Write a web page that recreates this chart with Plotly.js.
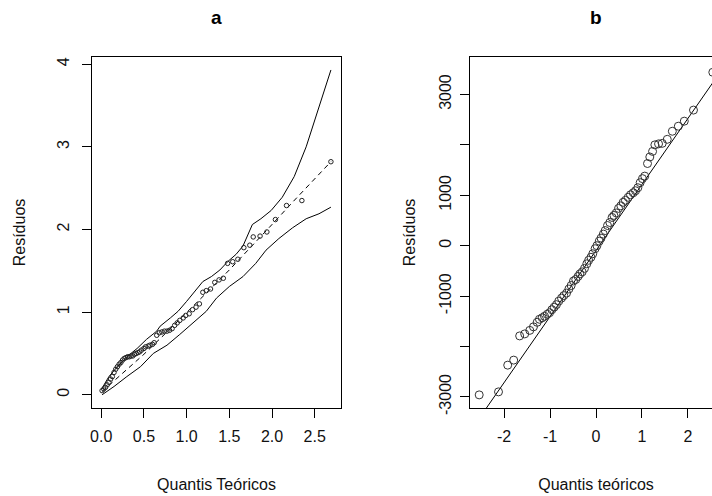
<!DOCTYPE html>
<html>
<head>
<meta charset="utf-8">
<script src="https://cdn.plot.ly/plotly-3.0.1.min.js"></script>
<style>
html,body{margin:0;padding:0;overflow:hidden;background:#fff;}
#chart{width:740px;height:496px;}
</style>
</head>
<body>
<div id="chart"></div>
<script>
// ---------- Panel a: half-normal plot with simulated envelope ----------
const aX = [0.01,0.03,0.05,0.07,0.09,0.11,0.13,0.15,0.17,0.19,0.21,0.23,0.25,0.27,0.29,0.31,0.33,0.35,0.37,0.39,0.41,0.43,0.45,0.47,0.50,0.52,0.55,0.57,0.60,0.62,0.65,0.68,0.71,0.74,0.77,0.80,0.83,0.86,0.89,0.92,0.96,0.99,1.03,1.07,1.11,1.15,1.19,1.23,1.28,1.33,1.38,1.43,1.48,1.54,1.60,1.67,1.74,1.78,1.86,1.94,2.04,2.17,2.35,2.69];
const aY = [0.05,0.07,0.09,0.12,0.15,0.19,0.22,0.27,0.31,0.34,0.37,0.39,0.42,0.44,0.45,0.46,0.46,0.47,0.47,0.49,0.50,0.51,0.52,0.54,0.56,0.58,0.59,0.60,0.61,0.63,0.72,0.75,0.76,0.77,0.77,0.78,0.80,0.84,0.87,0.90,0.93,0.96,0.98,1.03,1.06,1.10,1.24,1.26,1.28,1.36,1.39,1.41,1.59,1.61,1.64,1.78,1.81,1.91,1.92,1.97,2.12,2.29,2.35,2.82];
const aUpperX = [0.01,0.09,0.19,0.30,0.42,0.53,0.65,0.69,0.81,0.90,1.00,1.10,1.19,1.29,1.39,1.48,1.58,1.66,1.72,1.77,1.87,1.99,2.12,2.26,2.40,2.55,2.69];
const aUpperY = [0.08,0.22,0.34,0.46,0.56,0.67,0.77,0.83,0.93,1.01,1.13,1.25,1.37,1.43,1.51,1.61,1.70,1.80,1.95,2.06,2.13,2.23,2.39,2.64,3.00,3.48,3.93];
const aLowerX = [0.01,0.15,0.30,0.46,0.61,0.77,0.92,1.08,1.23,1.35,1.50,1.66,1.81,1.93,2.08,2.24,2.40,2.55,2.69];
const aLowerY = [0.00,0.10,0.22,0.34,0.50,0.60,0.73,0.87,1.01,1.17,1.31,1.43,1.59,1.75,1.89,2.02,2.13,2.19,2.27];
const aMedX = [0.01,0.15,0.30,0.50,0.75,1.00,1.25,1.50,1.75,2.00,2.25,2.50,2.69];
const aMedY = [0.04,0.17,0.30,0.49,0.74,0.99,1.25,1.51,1.78,2.06,2.34,2.61,2.82];
const aXTicks = [0, 0.5, 1.0, 1.5, 2.0, 2.5];
const aXTickText = ["0.0","0.5","1.0","1.5","2.0","2.5"];
const aYTicks = [0, 1, 2, 3, 4];
const aYTickText = ["0","1","2","3","4"];

// ---------- Panel b: normal QQ plot ----------
const bX = [-2.54,-2.12,-1.92,-1.79,-1.66,-1.55,-1.44,-1.36,-1.28,-1.23,-1.17,-1.12,-1.06,-1.01,-0.96,-0.91,-0.86,-0.81,-0.75,-0.70,-0.64,-0.59,-0.54,-0.49,-0.44,-0.39,-0.35,-0.30,-0.25,-0.20,-0.16,-0.11,-0.07,-0.02,0.02,0.07,0.11,0.16,0.20,0.25,0.30,0.35,0.39,0.44,0.49,0.54,0.59,0.64,0.70,0.75,0.81,0.86,0.91,0.96,1.01,1.06,1.12,1.17,1.23,1.28,1.36,1.44,1.55,1.66,1.79,1.92,2.12,2.54];
const bY = [-2960,-2900,-2370,-2270,-1790,-1750,-1680,-1610,-1520,-1460,-1430,-1400,-1360,-1330,-1270,-1220,-1170,-1100,-1040,-990,-940,-860,-790,-700,-670,-610,-560,-520,-450,-360,-290,-230,-160,-60,0,90,150,230,300,400,460,560,600,650,740,790,860,900,960,1010,1050,1090,1150,1250,1330,1380,1630,1760,1870,2000,2020,2030,2110,2270,2370,2470,2690,3440];
const bLineIntercept = -96;
const bLineSlope = 1311;
const bLineX = [-3, 3];
const bXTicks = [-2, -1, 0, 1, 2];
const bXTickText = ["-2","-1","0","1","2"];
const bYTicks = [-3000,-2000,-1000,0,1000,2000,3000];
const bYTickText = ["-3000","","-1000","0","1000","","3000"];

const W = 740, H = 496;
const FONT = "Liberation Sans, Arial, Helvetica, sans-serif";
const black = "#000000";

const traces = [
  {x: aUpperX, y: aUpperY, mode: "lines", line: {color: black, width: 1}, xaxis: "x", yaxis: "y", hoverinfo: "skip"},
  {x: aLowerX, y: aLowerY, mode: "lines", line: {color: black, width: 1}, xaxis: "x", yaxis: "y", hoverinfo: "skip"},
  {x: aMedX, y: aMedY, mode: "lines", line: {color: black, width: 1, dash: "5px,4px"}, xaxis: "x", yaxis: "y", hoverinfo: "skip"},
  {x: aX, y: aY, mode: "markers", marker: {symbol: "circle-open", size: 4.5, color: "#222", line: {width: 1, color: "#222"}}, xaxis: "x", yaxis: "y"},
  {x: bLineX, y: bLineX.map(v => bLineIntercept + bLineSlope * v), mode: "lines", line: {color: black, width: 1}, xaxis: "x2", yaxis: "y2", hoverinfo: "skip"},
  {x: bX, y: bY, mode: "markers", marker: {symbol: "circle-open", size: 8, color: "#333", line: {width: 1, color: "#333"}}, xaxis: "x2", yaxis: "y2"}
];

const yDom = [1 - 408/H, 1 - 57/H];
const axBase = {
  showgrid: false, zeroline: false, showline: true, mirror: true,
  linecolor: black, linewidth: 1, ticks: "outside", ticklen: 9, tickwidth: 1, tickcolor: black,
  tickfont: {family: FONT, size: 16, color: "#111"}, tickmode: "array"
};
const titleFont = {family: FONT, size: 16, color: "#111"};

const layout = {
  width: W, height: H,
  margin: {l: 0, r: 0, t: 0, b: 0},
  paper_bgcolor: "#fff", plot_bgcolor: "#fff",
  showlegend: false,
  font: {family: FONT, color: black},
  xaxis: Object.assign({}, axBase, {domain: [92/W, 341/W], range: [-0.108, 2.808], tickvals: aXTicks, ticktext: aXTickText, anchor: "y",
    ticklabelstandoff: 5, title: {text: "Quantis Teóricos", font: titleFont, standoff: 34}}),
  yaxis: Object.assign({}, axBase, {domain: yDom, range: [-0.16, 4.087], tickvals: aYTicks, ticktext: aYTickText, tickangle: -90, anchor: "x",
    ticklabelstandoff: 7, title: {text: "Resíduos", font: titleFont, standoff: 24}}),
  xaxis2: Object.assign({}, axBase, {domain: [470/W, 722/W], range: [-2.74, 2.74], tickvals: bXTicks, ticktext: bXTickText, anchor: "y2",
    ticklabelstandoff: 5, title: {text: "Quantis teóricos", font: titleFont, standoff: 34}}),
  yaxis2: Object.assign({}, axBase, {domain: yDom, range: [-3220, 3743], tickvals: bYTicks, ticktext: bYTickText, tickangle: -90, anchor: "x2",
    ticklabelstandoff: 3, title: {text: "Resíduos", font: titleFont, standoff: 16}}),
  annotations: [
    {text: "<b>a</b>", xref: "paper", yref: "paper", x: (92+341)/2/W, y: 1 - 17/H, xanchor: "center", yanchor: "middle", showarrow: false, font: {family: FONT, size: 19, color: black}},
    {text: "<b>b</b>", xref: "paper", yref: "paper", x: (470+722)/2/W, y: 1 - 17/H, xanchor: "center", yanchor: "middle", showarrow: false, font: {family: FONT, size: 19, color: black}}
  ]
};

Plotly.newPlot("chart", traces, layout, {displayModeBar: false, staticPlot: true});
</script>
</body>
</html>
